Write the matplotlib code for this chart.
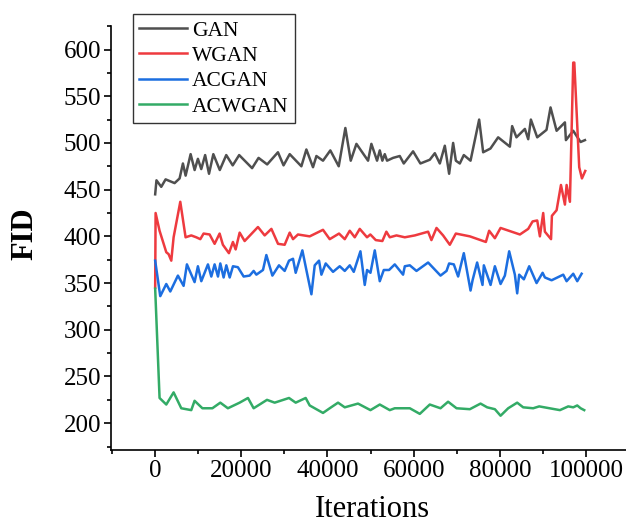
import matplotlib
matplotlib.use("Agg")
import matplotlib.pyplot as plt
from matplotlib.ticker import MultipleLocator

plt.rcParams['font.family'] = ['Liberation Serif', 'DejaVu Serif']

gan_x = [0, 300, 1410, 2420, 4510, 5670, 6440, 7070, 8230, 9160, 9920, 10700, 11600, 12500, 13500,
         15000, 16500, 18000, 19500, 21000, 22500, 24000, 26000, 28500, 29800, 31230, 33940, 35100,
         36640, 37430, 38960, 40660, 42610, 44150, 45400, 46720, 49420, 50190, 51510, 52140, 52740,
         53300, 53830, 55230, 56780, 57710, 59870, 61570, 63750, 64920, 66080, 67240, 68240, 69170,
         69800, 70720, 71650, 73210, 75210, 76140, 77830, 79620, 82340, 82870, 83870, 85830, 86600,
         87220, 88690, 90850, 91780, 93190, 95120, 95350, 97050, 98750, 99770]
gan_y = [445, 460, 453, 461, 457, 462, 478, 465, 488, 471, 483, 472, 487, 467, 488,
         471, 487, 476, 487, 480, 473, 484, 477, 490, 476, 488, 475, 493,
         474, 486, 481, 492, 475, 516, 481, 499, 481, 499, 481, 492, 481,
         488, 481, 484, 486, 478, 491, 478, 482, 489, 478, 497, 467, 500,
         481, 478, 487, 481, 525, 490, 494, 506, 496, 518, 506, 515, 504,
         525, 506, 514, 538, 513, 522, 503, 513, 501, 503]

wgan_x = [0, 100, 1020, 2580, 3110, 3740, 4280, 5830, 7060, 8380, 9540, 10480, 11240, 12640,
          13800, 14960, 15720, 17120, 18050, 18680, 19610, 20770, 23860, 25420, 26980, 28520,
          30060, 31230, 32000, 33150, 35870, 38960, 40520, 42680, 44010, 45170, 46330, 47490,
          49180, 49950, 51210, 52740, 53670, 54460, 56020, 57950, 60270, 63360, 64130, 65310,
          66840, 68400, 69800, 73050, 76770, 77530, 78860, 80180, 84670, 86600, 87620, 88690,
          89310, 90080, 90470, 91900, 92100, 93190, 94200, 95120, 95510, 96280, 97050, 97300,
          98440, 99070, 99840]
wgan_y = [345, 425, 406, 383, 381, 374, 399, 437, 399, 401, 399, 397, 403, 402,
          392, 403, 391, 382, 394, 386, 404, 395, 410, 401, 408, 392,
          391, 404, 397, 402, 400, 407, 397, 403, 397, 406, 399, 408,
          399, 402, 396, 395, 405, 399, 401, 399, 401, 405, 396, 409,
          401, 391, 403, 400, 394, 406, 398, 409, 402, 408, 416, 417,
          400, 425, 405, 397, 422, 428, 455, 434, 455, 437, 586, 586,
          474, 462, 470]

acgan_x = [0, 1180, 2580, 3510, 5280, 6600, 7370, 9150, 9920, 10710, 12250, 13030, 13800, 14580,
           15120, 15890, 16520, 17300, 18060, 19200, 20540, 21930, 22860, 23490, 25030, 25810,
           27210, 28740, 30060, 31070, 32000, 32620, 34170, 35100, 36270, 37040, 38040, 38590,
           39590, 41290, 42840, 44010, 45170, 46100, 47650, 48650, 49190, 49980, 50980, 52140,
           53070, 54300, 55620, 57550, 57950, 59110, 60660, 63360, 66240, 67640, 68240, 69330,
           70330, 71650, 73210, 73680, 74740, 75990, 76300, 77860, 78860, 80180, 81180, 82180,
           83500, 84040, 84500, 85590, 86830, 88540, 89940, 90470, 92030, 94730, 95510, 97050,
           97980, 99000]
acgan_y = [374, 336, 349, 341, 358, 347, 370, 351, 368, 352, 370, 357, 370, 357,
           371, 356, 369, 356, 368, 367, 357, 358, 363, 359, 364, 380,
           358, 369, 363, 374, 376, 361, 385, 364, 338, 369, 374, 359,
           371, 362, 368, 363, 369, 362, 384, 348, 364, 361, 385, 352,
           364, 364, 370, 359, 368, 369, 363, 372, 358, 363, 371, 370,
           357, 382, 342, 353, 372, 348, 369, 348, 368, 349, 358, 384,
           359, 339, 359, 354, 368, 350, 361, 356, 353, 359, 352, 360,
           352, 360]

acwgan_x = [0, 1020, 2580, 4280, 6060, 8380, 9150, 10960, 13280, 15120, 16880, 19610, 21540,
            22860, 25960, 27740, 31070, 32620, 34940, 35870, 38960, 40520, 42450, 44010, 47090,
            49980, 52140, 54460, 55620, 59110, 61430, 63750, 66240, 68000, 69960, 73050, 75530,
            77070, 78860, 80180, 81950, 84040, 85430, 87750, 89150, 93960, 95890, 97050, 97980,
            98770, 99600]
acwgan_y = [344, 227, 220, 233, 216, 214, 224, 216, 216, 222, 216, 222, 227,
            216, 225, 222, 227, 222, 227, 219, 211, 216, 222, 217, 221,
            214, 220, 214, 216, 216, 210, 220, 216, 223, 216, 215, 221,
            217, 215, 208, 216, 222, 217, 216, 218, 214, 218, 217, 219,
            216, 214]

labels = ["GAN", "WGAN", "ACGAN", "ACWGAN"]
colors = ["#4f4f4f", "#ee3a3f", "#1c6ee0", "#33ab66"]

fig = plt.figure(figsize=(6.26, 5.23), dpi=100)
ax = fig.add_axes([0.177, 0.139, 0.823, 0.811])

for xs, ys, lab, c in zip([gan_x, wgan_x, acgan_x, acwgan_x],
                          [gan_y, wgan_y, acgan_y, acwgan_y], labels, colors):
    ax.plot(xs, ys, color=c, lw=1.8, label=lab)

ax.set_xlim(-10300, 109300)
ax.set_ylim(171, 625)
ax.xaxis.set_major_locator(MultipleLocator(20000))
ax.xaxis.set_minor_locator(MultipleLocator(10000))
ax.yaxis.set_major_locator(MultipleLocator(50))
ax.yaxis.set_minor_locator(MultipleLocator(25))
ax.spines['top'].set_visible(False)
ax.spines['right'].set_visible(False)
for s in ['left', 'bottom']:
    ax.spines[s].set_linewidth(1.2)
ax.tick_params(which='major', direction='out', length=5, width=1.2, labelsize=18, pad=2)
ax.tick_params(which='minor', direction='out', length=3, width=1.2)

ax.set_xlabel("Iterations", fontsize=22)
ax.xaxis.label.set_va('baseline')
ax.xaxis.set_label_coords(0.507, -(517 - 450) / 424)
ax.set_ylabel("FID", fontsize=22, fontweight='bold')
ax.yaxis.label.set_va('center')
ax.yaxis.set_label_coords((25 - 111) / 515, (450 - 233) / 424)

leg = ax.legend(loc='upper left', bbox_to_anchor=(133/626, 1-14/523),
                bbox_transform=fig.transFigure, borderaxespad=0, fontsize=15.5,
                frameon=True, fancybox=False, edgecolor='black', handlelength=2.2,
                handletextpad=0.25, labelspacing=0.25, borderpad=0.3)
leg.get_frame().set_linewidth(1.0)

fig.savefig("out.png", dpi=100)
